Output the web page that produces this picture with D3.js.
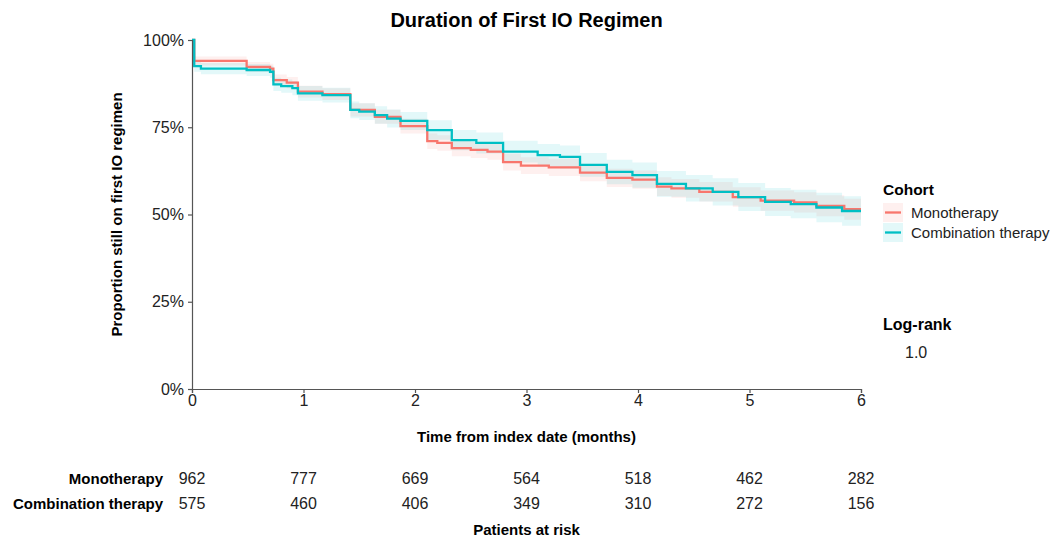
<!DOCTYPE html>
<html>
<head>
<meta charset="utf-8">
<script src="https://cdn.jsdelivr.net/npm/d3@7"></script>
<style>
  body { margin: 0; background: #fff; }
  svg { font-family: "Liberation Sans", Arial, sans-serif; }
</style>
</head>
<body>
<svg id="chart" width="1051" height="543"></svg>
<script>
// step curves (time in months, proportion still on regimen)
let monoTime = [0, 0.02, 0.49, 0.70, 0.73, 0.85, 0.95, 1.17, 1.42, 1.64, 1.87, 2.11, 2.20, 2.33, 2.50, 2.65, 2.79, 2.95, 3.20, 3.48, 3.72, 3.95, 4.17, 4.30, 4.55, 4.85, 5.10, 5.40, 5.60, 5.85]
let monoSurv = [1.00, 0.940, 0.923, 0.918, 0.885, 0.878, 0.852, 0.845, 0.800, 0.780, 0.753, 0.710, 0.705, 0.690, 0.685, 0.680, 0.650, 0.640, 0.635, 0.620, 0.605, 0.600, 0.580, 0.575, 0.565, 0.550, 0.540, 0.535, 0.525, 0.515]
let monoLo = [1.00, 0.927, 0.909, 0.904, 0.869, 0.862, 0.835, 0.828, 0.781, 0.760, 0.732, 0.688, 0.683, 0.667, 0.662, 0.657, 0.626, 0.616, 0.610, 0.595, 0.579, 0.574, 0.553, 0.548, 0.537, 0.522, 0.511, 0.506, 0.495, 0.485]
let monoHi = [1.00, 0.953, 0.937, 0.932, 0.901, 0.894, 0.869, 0.862, 0.819, 0.800, 0.774, 0.732, 0.727, 0.713, 0.708, 0.703, 0.674, 0.664, 0.660, 0.645, 0.631, 0.626, 0.607, 0.602, 0.593, 0.578, 0.569, 0.564, 0.555, 0.545]

let comboTime = [0, 0.02, 0.08, 0.49, 0.70, 0.73, 0.80, 0.90, 0.95, 1.17, 1.42, 1.50, 1.64, 1.75, 1.87, 2.11, 2.33, 2.55, 2.79, 3.10, 3.30, 3.48, 3.72, 3.95, 4.17, 4.43, 4.67, 4.90, 5.14, 5.37, 5.60, 5.83]
let comboSurv = [1.00, 0.925, 0.918, 0.914, 0.909, 0.873, 0.868, 0.862, 0.847, 0.842, 0.800, 0.795, 0.785, 0.775, 0.768, 0.742, 0.713, 0.705, 0.680, 0.670, 0.665, 0.642, 0.622, 0.613, 0.588, 0.575, 0.565, 0.550, 0.536, 0.530, 0.520, 0.510]
let comboLo = [1.00, 0.909, 0.902, 0.897, 0.892, 0.854, 0.849, 0.842, 0.826, 0.821, 0.776, 0.771, 0.760, 0.749, 0.742, 0.714, 0.684, 0.675, 0.649, 0.638, 0.632, 0.608, 0.587, 0.577, 0.551, 0.537, 0.526, 0.510, 0.496, 0.489, 0.478, 0.468]
let comboHi = [1.00, 0.941, 0.934, 0.931, 0.926, 0.892, 0.887, 0.882, 0.868, 0.863, 0.824, 0.819, 0.810, 0.801, 0.794, 0.770, 0.742, 0.735, 0.711, 0.702, 0.698, 0.676, 0.657, 0.649, 0.625, 0.613, 0.604, 0.590, 0.576, 0.571, 0.562, 0.552]

let cohorts = ["Monotherapy", "Combination therapy"]
let riskTimes = [0, 1, 2, 3, 4, 5, 6]
let monoRisk = [962, 777, 669, 564, 518, 462, 282]
let comboRisk = [575, 460, 406, 349, 310, 272, 156]
let yTicks = [0, 0.25, 0.5, 0.75, 1]
let logRank = "1.0"

let marginLeft = 192,
    plotWidth = 669,
    marginTop = 40,
    plotHeight = 349;

let colors = {"Monotherapy": "#F8766D", "Combination therapy": "#00BFC4"}
let bandOpacity = 0.11

let svg = d3.select("#chart")
let x = d3.scaleLinear([0, 6], [marginLeft, marginLeft + plotWidth])
let y = d3.scaleLinear([0, 1], [marginTop + plotHeight, marginTop])

function toRows(time, surv, lo, hi) {
    let rows = time.map((t, i) => ({t: t, s: surv[i], lo: lo[i], hi: hi[i]}))
    let last = rows[rows.length - 1]
    rows.push({t: 6, s: last.s, lo: last.lo, hi: last.hi})
    return rows
}

let series = [
    {name: "Monotherapy", rows: toRows(monoTime, monoSurv, monoLo, monoHi)},
    {name: "Combination therapy", rows: toRows(comboTime, comboSurv, comboLo, comboHi)},
]

let area = d3.area()
    .curve(d3.curveStepAfter)
    .x(d => x(d.t))
    .y0(d => y(d.lo))
    .y1(d => y(d.hi))
let line = d3.line()
    .curve(d3.curveStepAfter)
    .x(d => x(d.t))
    .y(d => y(d.s))

let gBand = svg.append("g")
series.forEach(s => {
    gBand.append("path")
        .attr("d", area(s.rows))
        .attr("fill", colors[s.name])
        .attr("opacity", bandOpacity)
})
let gLine = svg.append("g")
series.forEach(s => {
    gLine.append("path")
        .attr("d", line(s.rows))
        .attr("fill", "none")
        .attr("stroke", colors[s.name])
        .attr("stroke-width", 2.3)
})

// axes
let axisColor = "#555"
let gy = svg.append("g")
    .attr("transform", `translate(${marginLeft}, 0)`)
    .call(d3.axisLeft(y).tickValues(yTicks).tickFormat(d3.format(".0%")).tickSize(4).tickPadding(4))
let gx = svg.append("g")
    .attr("transform", `translate(0, ${marginTop + plotHeight})`)
    .call(d3.axisBottom(x).tickValues(riskTimes).tickFormat(d3.format("d")).tickSize(4).tickPadding(2))
;[gx, gy].forEach(g => {
    g.select(".domain").attr("stroke", axisColor).attr("stroke-width", 1.2)
    g.selectAll(".tick line").attr("stroke", axisColor).attr("stroke-width", 1.2)
    g.selectAll(".tick text").attr("font-size", 16).attr("fill", "#222").attr("font-family", null)
})

// titles
svg.append("text")
    .attr("x", marginLeft + plotWidth / 2).attr("y", 27)
    .attr("text-anchor", "middle").attr("font-size", 20).attr("font-weight", "bold")
    .text("Duration of First IO Regimen")
svg.append("text")
    .attr("x", marginLeft + plotWidth / 2).attr("y", 442)
    .attr("text-anchor", "middle").attr("font-size", 15).attr("font-weight", "bold")
    .text("Time from index date (months)")
svg.append("text")
    .attr("transform", `translate(122, ${marginTop + plotHeight / 2}) rotate(-90)`)
    .attr("text-anchor", "middle").attr("font-size", 15).attr("font-weight", "bold")
    .text("Proportion still on first IO regimen")

// legend
let legend = svg.append("g").attr("transform", "translate(883, 0)")
legend.append("text").attr("x", 0).attr("y", 195)
    .attr("font-size", 15.5).attr("font-weight", "bold").text("Cohort")
cohorts.forEach((c, i) => {
    let top = 203 + i * 20
    legend.append("rect")
        .attr("x", 0).attr("y", top).attr("width", 20).attr("height", 19)
        .attr("fill", colors[c]).attr("opacity", bandOpacity)
    legend.append("line")
        .attr("x1", 2).attr("x2", 18).attr("y1", top + 9.5).attr("y2", top + 9.5)
        .attr("stroke", colors[c]).attr("stroke-width", 2.3)
    legend.append("text").attr("x", 28).attr("y", top + 15)
        .attr("font-size", 15).attr("fill", "#222").text(c)
})
legend.append("text").attr("x", 0).attr("y", 330)
    .attr("font-size", 16).attr("font-weight", "bold").text("Log-rank")
legend.append("text").attr("x", 22).attr("y", 358)
    .attr("font-size", 16).attr("fill", "#222").text(logRank)

// risk table
let risk = [monoRisk, comboRisk]
risk.forEach((vals, i) => {
    let base = 484 + i * 25
    svg.append("text")
        .attr("x", 163).attr("y", base)
        .attr("text-anchor", "end").attr("font-size", 15).attr("font-weight", "bold")
        .text(cohorts[i])
    svg.append("g")
        .selectAll("text")
        .data(vals)
        .join("text")
        .attr("x", (d, j) => x(riskTimes[j]))
        .attr("y", base)
        .attr("text-anchor", "middle").attr("font-size", 16).attr("fill", "#222")
        .text(d => d)
})
svg.append("text")
    .attr("x", marginLeft + plotWidth / 2).attr("y", 535)
    .attr("text-anchor", "middle").attr("font-size", 15).attr("font-weight", "bold")
    .text("Patients at risk")
</script>
</body>
</html>
